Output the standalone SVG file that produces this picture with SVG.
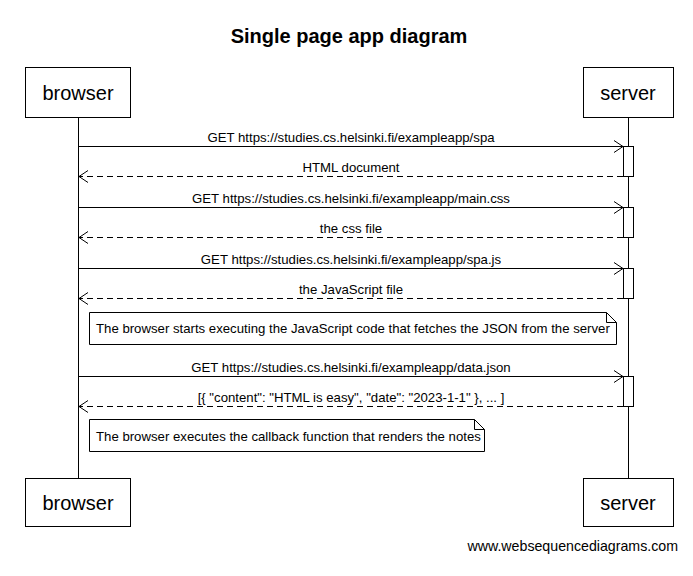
<svg xmlns="http://www.w3.org/2000/svg" width="693" height="576" viewBox="0 0 693 576">
<defs>
<style>
text{font-family:"Liberation Sans",Arial,sans-serif;fill:#000}
.title{font-size:20px;font-weight:bold}
.part{font-size:20px}
.msg{font-size:13.2px}
.box{fill:#fff;stroke:#000;stroke-width:1}
.life{stroke:#000;stroke-width:1}
.req{stroke:#000;stroke-width:1;fill:none}
.res{stroke:#000;stroke-width:1;fill:none;stroke-dasharray:6,4}
.head{stroke:#000;stroke-width:1;fill:none}
</style>
</defs>
<rect width="693" height="576" fill="#fff"/>
<text class="title" x="349" y="43" text-anchor="middle">Single page app diagram</text>
<g id="lifelines">
<line class="life" x1="78.5" y1="118" x2="78.5" y2="478"/>
<line class="life" x1="628.5" y1="118" x2="628.5" y2="478"/>
</g>
<g id="browser">
<rect class="box" x="25.5" y="67.5" width="105" height="50"/>
<text class="part" x="78" y="100" text-anchor="middle">browser</text>
</g>
<g id="server">
<rect class="box" x="583.5" y="67.5" width="90" height="50"/>
<text class="part" x="628" y="100" text-anchor="middle">server</text>
</g>
<g id="browser-bottom">
<rect class="box" x="25.5" y="478.5" width="105" height="48"/>
<text class="part" x="78" y="510" text-anchor="middle">browser</text>
</g>
<g id="server-bottom">
<rect class="box" x="583.5" y="478.5" width="90" height="48"/>
<text class="part" x="628" y="510" text-anchor="middle">server</text>
</g>
<g id="activations">
<rect class="box" x="623.5" y="146.5" width="10" height="30"/>
<rect class="box" x="623.5" y="207.5" width="10" height="30"/>
<rect class="box" x="623.5" y="268.5" width="10" height="30"/>
<rect class="box" x="623.5" y="376.5" width="10" height="30"/>
</g>
<g id="connectors">
<line class="req" x1="79" y1="146.5" x2="623" y2="146.5"/>
<path class="head" d="M614,140.5 L623,146.5 L614,152.5"/>
<text class="msg" x="351" y="142" text-anchor="middle">GET https://studies.cs.helsinki.fi/exampleapp/spa</text>
<line class="res" x1="623" y1="176.5" x2="79" y2="176.5"/>
<path class="head" d="M88,170.5 L79,176.5 L88,182.5"/>
<text class="msg" x="351" y="172" text-anchor="middle">HTML document</text>
<line class="req" x1="79" y1="207.5" x2="623" y2="207.5"/>
<path class="head" d="M614,201.5 L623,207.5 L614,213.5"/>
<text class="msg" x="351" y="203" text-anchor="middle">GET https://studies.cs.helsinki.fi/exampleapp/main.css</text>
<line class="res" x1="623" y1="237.5" x2="79" y2="237.5"/>
<path class="head" d="M88,231.5 L79,237.5 L88,243.5"/>
<text class="msg" x="351" y="233" text-anchor="middle">the css file</text>
<line class="req" x1="79" y1="268.5" x2="623" y2="268.5"/>
<path class="head" d="M614,262.5 L623,268.5 L614,274.5"/>
<text class="msg" x="351" y="264" text-anchor="middle">GET https://studies.cs.helsinki.fi/exampleapp/spa.js</text>
<line class="res" x1="623" y1="298.5" x2="79" y2="298.5"/>
<path class="head" d="M88,292.5 L79,298.5 L88,304.5"/>
<text class="msg" x="351" y="294" text-anchor="middle">the JavaScript file</text>
<line class="req" x1="79" y1="376.5" x2="623" y2="376.5"/>
<path class="head" d="M614,370.5 L623,376.5 L614,382.5"/>
<text class="msg" x="351" y="372" text-anchor="middle">GET https://studies.cs.helsinki.fi/exampleapp/data.json</text>
<line class="res" x1="623" y1="406.5" x2="79" y2="406.5"/>
<path class="head" d="M88,400.5 L79,406.5 L88,412.5"/>
<text class="msg" x="351" y="402" text-anchor="middle">[{ "content": "HTML is easy", "date": "2023-1-1" }, ... ]</text>
</g>
<g id="note1">
<path class="box" d="M89.5,312.5 H606.5 L616.5,322.5 V344.5 H89.5 Z"/>
<path class="head" d="M606.5,312.5 V322.5 H616.5"/>
<text class="msg" x="96" y="333">The browser starts executing the JavaScript code that fetches the JSON from the server</text>
</g>
<g id="note2">
<path class="box" d="M89.5,419.5 H474.5 L484.5,429.5 V451.5 H89.5 Z"/>
<path class="head" d="M474.5,419.5 V429.5 H484.5"/>
<text class="msg" x="96" y="441">The browser executes the callback function that renders the notes</text>
</g>
<text x="678" y="551" text-anchor="end" style="font-size:14.2px">www.websequencediagrams.com</text>
</svg>
